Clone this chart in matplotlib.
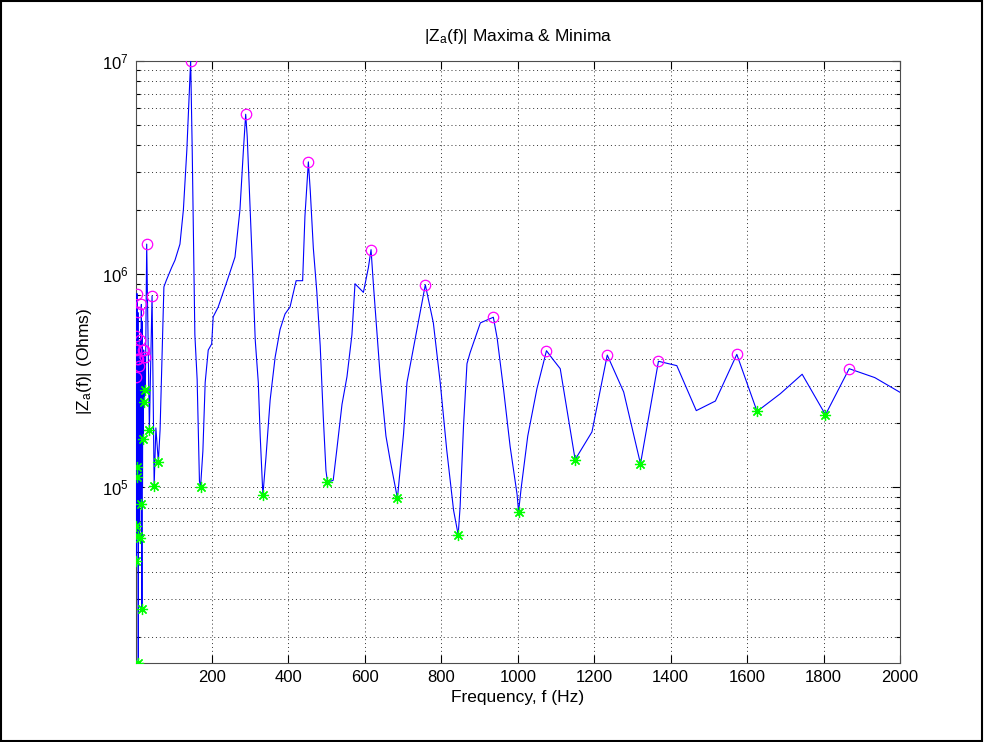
import matplotlib
matplotlib.use('Agg')
import matplotlib.pyplot as plt
from matplotlib.patches import Rectangle
from matplotlib.ticker import LogLocator, NullFormatter, FixedLocator

plt.rcParams['font.family'] = ['Liberation Sans', 'DejaVu Sans']
plt.rcParams['mathtext.fontset'] = 'custom'
plt.rcParams['mathtext.rm'] = 'Liberation Sans'
plt.rcParams['mathtext.it'] = 'Liberation Sans'

# |Za(f)| curve (Hz, Ohms)
freq_hz = [1.0, 1.2, 1.5, 1.8, 2.3, 2.8, 3.4, 3.9, 4.5, 5.0,
           6.0, 7.0, 7.5, 8.2, 9.0, 10.5, 12.0, 13.0, 13.8, 14.4,
           15.0, 16.5, 17.3, 18.0, 19.0,
           20.0, 21.0, 22.5, 24.0, 25.5, 29.0, 36.0, 43.0, 48.5, 53.0,
           59.5, 64, 74, 80, 94, 103, 116, 125, 134, 144,
           148, 155, 161, 167, 170, 176, 182, 190, 199, 203,
           216, 225, 243, 260, 273, 282, 288, 292, 304, 313,
           321, 326, 333, 341, 352, 365, 378, 391, 404, 420,
           437, 443, 452, 457, 465, 474, 483, 491, 498, 502,
           517, 526, 540, 553, 566, 574, 596, 609, 616, 622,
           640, 655, 666, 685, 701, 710, 736, 758, 779, 797,
           814, 832, 844, 849, 858, 867, 875, 902, 921, 936,
           946, 963, 980, 998, 1002, 1009, 1026, 1050, 1075, 1091,
           1111, 1128, 1150, 1194, 1234, 1277, 1321, 1368, 1416, 1467,
           1517, 1573, 1626, 1687, 1744, 1805, 1867, 1934, 2000]
z_ohms = [3.3e5, 4.5e4, 4.4e5, 6.6e4, 5.1e5, 1.12e5, 8.1e5, 1.25e5, 4.0e5, 5.9e4,
          6.6e5, 1.51e4, 4.0e5, 7.0e4, 3.7e5, 5.8e4, 4.9e5, 8.4e4, 5.5e5, 9.0e4,
          7.2e5, 2.7e4, 6.0e5, 1.0e5, 4.4e5,
          1.68e5, 4.4e5, 2.5e5, 4.1e5, 2.85e5, 1.38e6, 1.86e5, 7.9e5, 1.02e5, 1.9e5,
          1.32e5, 1.86e5, 8.7e5, 9.3e5, 1.07e6, 1.16e6, 1.38e6, 2.0e6, 3.8e6, 1.0e7,
          3.9e6, 5.2e5, 3.2e5, 1.07e5, 1.01e5, 1.48e5, 3.1e5, 4.4e5, 4.7e5, 6.3e5,
          7.0e5, 7.8e5, 9.7e5, 1.2e6, 2.0e6, 3.8e6, 5.6e6, 4.4e6, 1.29e6, 4.9e5,
          3.1e5, 1.74e5, 9.2e4, 1.38e5, 2.57e5, 4.07e5, 5.5e5, 6.5e5, 7.0e5, 9.3e5,
          9.3e5, 1.86e6, 3.35e6, 2.45e6, 1.32e6, 8.3e5, 4.6e5, 2.14e5, 1.2e5, 1.06e5,
          1.08e5, 1.48e5, 2.45e5, 3.3e5, 5.2e5, 9.0e5, 8.2e5, 1.07e6, 1.3e6, 9.0e5,
          3.3e5, 1.74e5, 1.34e5, 8.9e4, 1.78e5, 3.1e5, 5.5e5, 8.9e5, 5.9e5, 3.1e5,
          1.5e5, 7.8e4, 6.0e4, 8.1e4, 1.95e5, 3.8e5, 4.27e5, 5.9e5, 6.1e5, 6.27e5,
          5.0e5, 2.85e5, 1.55e5, 9.3e4, 7.7e4, 1.0e5, 1.74e5, 2.9e5, 4.37e5, 4.0e5,
          3.6e5, 2.34e5, 1.35e5, 1.82e5, 4.17e5, 2.8e5, 1.29e5, 3.9e5, 3.72e5, 2.29e5,
          2.54e5, 4.2e5, 2.27e5, 2.75e5, 3.39e5, 2.19e5, 3.6e5, 3.27e5, 2.79e5]

# maxima (circles)
max_f = [1.0, 1.5, 2.3, 3.4, 4.5, 6.0, 7.5, 9.0, 12.0, 15.0, 19.0, 21.0, 24.0, 29.0, 43.0,
         144, 288, 452, 616, 758, 936, 1075, 1234, 1368, 1573, 1867]
max_z = [3.3e5, 4.4e5, 5.1e5, 8.1e5, 4.0e5, 6.6e5, 4.0e5, 3.7e5, 4.9e5, 7.2e5, 4.4e5, 4.4e5, 4.1e5, 1.38e6, 7.9e5,
         1.0e7, 5.6e6, 3.35e6, 1.3e6, 8.9e5, 6.27e5, 4.37e5, 4.17e5, 3.9e5, 4.2e5, 3.6e5]

# minima (asterisks)
min_f = [1.2, 1.8, 2.8, 3.9, 5.0, 7.0, 10.5, 13.0, 16.5, 20.0, 22.5, 25.5, 36.0, 48.5, 59.5,
         170, 333, 502, 685, 844, 1002, 1150, 1321, 1626, 1805]
min_z = [4.5e4, 6.6e4, 1.12e5, 1.25e5, 5.9e4, 1.51e4, 5.8e4, 8.4e4, 2.7e4, 1.68e5, 2.5e5, 2.85e5, 1.86e5, 1.02e5, 1.32e5,
         1.01e5, 9.2e4, 1.06e5, 8.9e4, 6.0e4, 7.7e4, 1.35e5, 1.29e5, 2.27e5, 2.19e5]

fig = plt.figure(figsize=(9.84, 7.42), dpi=100)
fig.patches.append(Rectangle((0.001, 0.001), 0.997, 0.997, transform=fig.transFigure,
                             fill=False, edgecolor='black', linewidth=1.5))
ax = fig.add_axes([136 / 984, 1 - 662.7 / 742, (900 - 136) / 984, (662.7 - 60.5) / 742])

ax.semilogy(freq_hz, z_ohms, color='#0000ff', linewidth=0.8, zorder=3)
ax.plot(max_f, max_z, linestyle='none', marker='o', markersize=7.5,
        markerfacecolor='none', markeredgecolor='#ff00ff', markeredgewidth=0.9, zorder=4)
ax.plot(min_f, min_z, linestyle='none', marker=(8, 2, 0), markersize=8,
        markeredgecolor='#00ff00', markeredgewidth=0.9, zorder=4)

ax.set_xlim(min(freq_hz), max(freq_hz))
ax.set_ylim(min(z_ohms), max(z_ohms))
ax.xaxis.set_major_locator(FixedLocator(range(200, 2001, 200)))
ax.yaxis.set_major_locator(LogLocator(base=10))
ax.yaxis.set_minor_locator(LogLocator(base=10, subs=range(2, 10)))
ax.yaxis.set_minor_formatter(NullFormatter())

grid_style = dict(color='0.2', linestyle=(0, (1, 3)), linewidth=0.7)
ax.grid(True, which='major', axis='both', **grid_style)
ax.grid(True, which='minor', axis='y', **grid_style)
ax.set_axisbelow(True)

ax.tick_params(which='both', direction='in', top=True, right=True, labelsize=12)
ax.tick_params(which='major', length=6, width=0.8, pad=5)
ax.tick_params(which='minor', length=3, width=0.8)
for s in ax.spines.values():
    s.set_linewidth(0.8)
    s.set_color('0.3')

ax.set_xlabel('Frequency, f (Hz)', fontsize=12.5, labelpad=4)
ax.set_ylabel(r'|Z$_a$(f)| (Ohms)', fontsize=12.5, labelpad=6)
ax.set_title(r'|Z$_a$(f)| Maxima & Minima', fontsize=12.5, pad=14)

fig.savefig('out.png', dpi=100)
